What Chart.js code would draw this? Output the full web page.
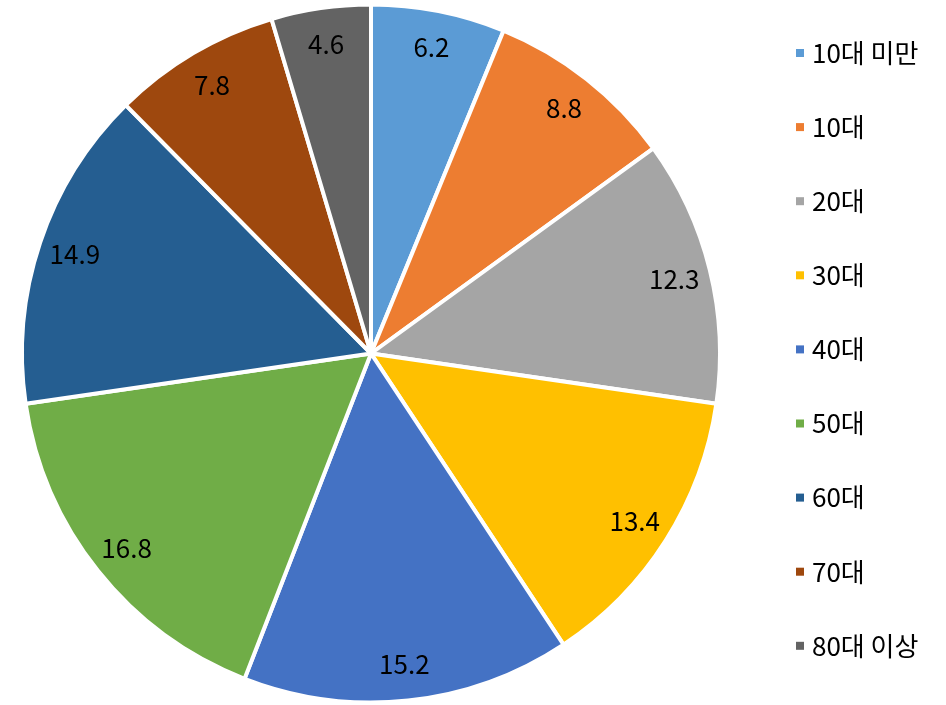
<!DOCTYPE html>
<html>
<head>
<meta charset="utf-8">
<script src="https://cdn.jsdelivr.net/npm/chart.js@4"></script>
<style>
html,body{margin:0;padding:0;background:#fff;}
#wrap{position:relative;width:946px;height:705px;}
</style>
</head>
<body>
<div id="wrap"><canvas id="c" width="946" height="705"></canvas></div>
<script>
const categories = ['10대 미만','10대','20대','30대','40대','50대','60대','70대','80대 이상'];
const values = [6.2, 8.8, 12.3, 13.4, 15.2, 16.8, 14.9, 7.8, 4.6];
const colors = ['#5B9BD5','#ED7D31','#A5A5A5','#FFC000','#4472C4','#70AD47','#255E91','#9E480E','#636363'];

const FONT = '"Noto Sans CJK KR", "Noto Sans", sans-serif';

const labelPlugin = {
  id: 'sliceLabels',
  afterDatasetsDraw(chart) {
    const ctx = chart.ctx;
    const meta = chart.getDatasetMeta(0);
    ctx.save();
    ctx.font = '26px ' + FONT;
    ctx.fillStyle = '#000';
    ctx.textAlign = 'center';
    ctx.textBaseline = 'middle';
    meta.data.forEach((arc, i) => {
      const p = arc.getProps(['x','y','startAngle','endAngle','outerRadius'], true);
      const mid = (p.startAngle + p.endAngle) / 2;
      const r = p.outerRadius * 0.895;
      ctx.fillText(String(values[i]), p.x + Math.cos(mid) * r, p.y + Math.sin(mid) * r);
    });
    ctx.restore();
  }
};

const legendPlugin = {
  id: 'sideLegend',
  afterDraw(chart) {
    const ctx = chart.ctx;
    ctx.save();
    ctx.font = '26px ' + FONT;
    ctx.textAlign = 'left';
    ctx.textBaseline = 'middle';
    categories.forEach((c, i) => {
      const y = 53 + i * 74.1;
      ctx.fillStyle = colors[i];
      ctx.fillRect(796, y - 4, 8, 8);
      ctx.fillStyle = '#000';
      ctx.fillText(c, 812, y);
    });
    ctx.restore();
  }
};

new Chart(document.getElementById('c'), {
  type: 'pie',
  data: {
    labels: categories,
    datasets: [{
      data: values,
      backgroundColor: colors,
      borderColor: '#ffffff',
      borderWidth: 4
    }]
  },
  options: {
    responsive: false,
    animation: false,
    layout: { padding: { left: 20, right: 224, top: 2, bottom: 0 } },
    plugins: {
      legend: { display: false },
      tooltip: { enabled: false }
    }
  },
  plugins: [labelPlugin, legendPlugin]
});
</script>
</body>
</html>
